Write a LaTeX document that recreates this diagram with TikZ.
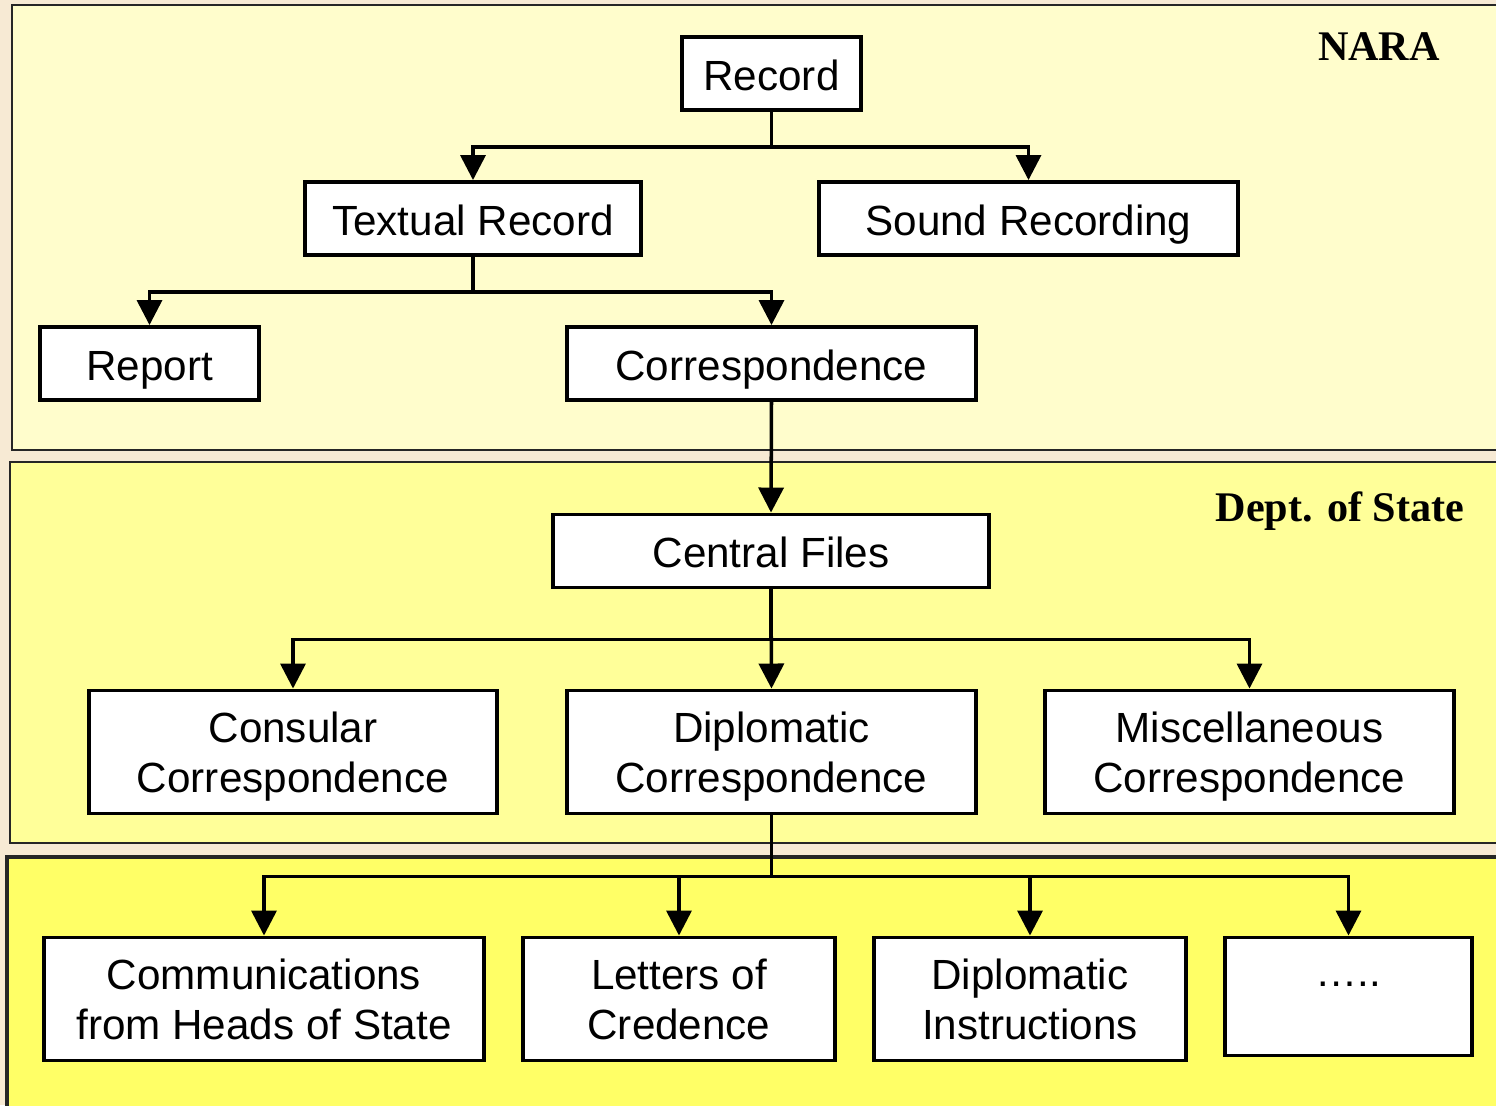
\documentclass[tikz,border=0pt]{standalone}
\usepackage{fontspec}
\setmainfont{Liberation Sans}
\newfontfamily\bandfont{Liberation Serif}
\usetikzlibrary{arrows.meta}

\definecolor{parchment}{HTML}{F7EAD4}
\definecolor{bandA}{HTML}{FFFDCC}
\definecolor{bandB}{HTML}{FFFF99}
\definecolor{bandC}{HTML}{FFFF66}

\tikzset{
  box/.style={draw=black, line width=1.1pt, fill=white, align=center,
              inner sep=0pt, font=\fontsize{12}{14.2}\selectfont},
  onebox/.style={box, minimum height=0.73cm, text height=0.35cm, text depth=0.02cm},
  twobox/.style={box, minimum height=1.23cm, text height=0.89cm, text depth=0.09cm},
  link/.style={line width=1pt, -{Triangle[width=0.25cm,length=0.25cm]}},
  band/.style={draw=black!85, line width=0.8pt},
  bandlabel/.style={font=\bandfont\bfseries\fontsize{12}{14}\selectfont}
}

\begin{document}
\begin{tikzpicture}[x=0.01cm, y=-0.01cm]
  \useasboundingbox (0,0) rectangle (1496,1105);
  \fill[parchment] (0,0) rectangle (1496,1105);

  % organisational bands
  \begin{scope}
    \clip (0,0) rectangle (1496,1105);
    \draw[band, fill=bandA] (12,5) rectangle (1520,450);
    \draw[band, fill=bandB] (10,462) rectangle (1520,843);
    \draw[band, fill=bandC, line width=1pt] (7,857) rectangle (1520,1130);
  \end{scope}

  \node[bandlabel] (nara) at (1379,47) {NARA};
  \node[bandlabel] (dos) at (1340,511) {Dept. of State};

  % record hierarchy
  \node[onebox, minimum width=1.79cm] (rec) at (771.5,73.5) {Record};
  \node[onebox, minimum width=3.36cm] (tex) at (473,218.5) {Textual Record};
  \node[onebox, minimum width=4.19cm] (snd) at (1028.5,218.5) {Sound Recording};
  \node[onebox, minimum width=2.19cm] (rep) at (149.5,363.5) {Report};
  \node[onebox, minimum width=4.09cm] (cor) at (771.5,363.5) {Correspondence};

  \node[onebox, minimum width=4.36cm] (cen) at (771,551) {Central Files};

  \node[twobox, minimum width=4.08cm] (con) at (293,752) {Consular\\Correspondence};
  \node[twobox, minimum width=4.09cm] (dip) at (771.5,752) {Diplomatic\\Correspondence};
  \node[twobox, minimum width=4.09cm] (mis) at (1249.5,752) {Miscellaneous\\Correspondence};

  \node[twobox, minimum width=4.40cm] (com) at (264,999) {Communications\\from Heads of State};
  \node[twobox, minimum width=3.12cm] (let) at (679,999) {Letters of\\Credence};
  \node[twobox, minimum width=3.12cm] (din) at (1030,999) {Diplomatic\\Instructions};
  \node[twobox, minimum width=2.47cm, minimum height=1.18cm] (etc) at (1348.5,996.5) {…..\\\vphantom{p}};

  % connectors
  \draw[link] (rec.south) -- ++(0,35) -| (tex.north);
  \draw[link] (rec.south) -- ++(0,35) -| (snd.north);
  \draw[link] (tex.south) -- ++(0,35) -| (rep.north);
  \draw[link] (tex.south) -- ++(0,35) -| (cor.north);
  \draw[link] (cor.south) -- (cen.north);
  \draw[link] (cen.south) -- ++(0,50) -| (con.north);
  \draw[link] (cen.south) -- (dip.north);
  \draw[link] (cen.south) -- ++(0,50) -| (mis.north);
  \draw[link] (dip.south) -- ++(0,61) -| (com.north);
  \draw[link] (dip.south) -- ++(0,61) -| (let.north);
  \draw[link] (dip.south) -- ++(0,61) -| (din.north);
  \draw[link] (dip.south) -- ++(0,61) -| (etc.north);
\end{tikzpicture}
\end{document}
